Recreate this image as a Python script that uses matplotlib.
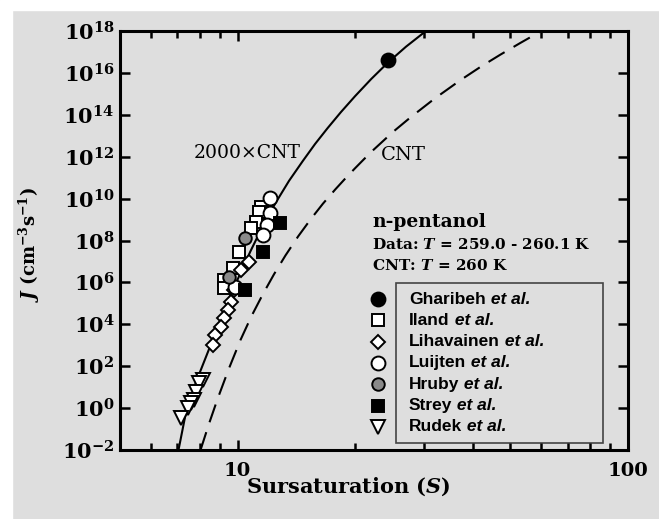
import math
import matplotlib
matplotlib.use('Agg')
import matplotlib.pyplot as plt
from matplotlib.patches import Rectangle
from matplotlib.ticker import FixedLocator, FuncFormatter, LogLocator, NullFormatter

# curves: S and log10(J)
cnt2000_S = [7.06, 7.36, 7.85, 8.53, 9.49, 10.8, 11.6, 12.5, 13.55, 14.7, 15.8, 17.0, 18.4,
             20.0, 22.0, 24.3, 27.0, 29.9, 31.2]
cnt2000_logJ = [-2.0, -0.3, 1.3, 3.0, 5.2, 7.5, 8.68, 9.78, 10.85, 11.8, 12.61, 13.36, 14.13,
                14.89, 15.71, 16.5, 17.25, 17.9, 18.2]
cnt_S = [8.04, 8.45, 8.89, 9.5, 10.18, 10.85, 11.59, 12.4, 13.27, 14.3, 15.4, 16.55, 17.8,
         18.9, 20.0, 21.1, 22.3, 25.0, 27.7, 32.0, 37.2, 42.0, 47.1, 53.0, 59.6, 62.0]
cnt_logJ = [-2.0, -0.75, 0.44, 1.88, 3.26, 4.38, 5.41, 6.39, 7.29, 8.2, 9.02, 9.76, 10.44,
            10.97, 11.45, 11.89, 12.33, 13.18, 13.87, 14.78, 15.65, 16.3, 16.87, 17.43, 17.97, 18.2]

# experimental data: S and log10(J)
gharibeh_S = [24.3]
gharibeh_logJ = [16.62]
iland_S = [11.5, 11.32, 11.12, 10.8, 10.06, 9.71, 9.21, 9.21]
iland_logJ = [9.6, 9.36, 8.88, 8.6, 7.45, 6.69, 6.11, 5.73]
lihavainen_S = [10.67, 10.18, 9.77, 9.6, 9.43, 9.21, 9.05, 8.78, 8.63]
lihavainen_logJ = [6.97, 6.59, 5.64, 5.06, 4.68, 4.3, 3.87, 3.49, 3.01]
luijten_S = [12.14, 12.14, 11.93, 11.59, 9.85]
luijten_logJ = [10.03, 9.31, 8.74, 8.26, 5.8]
hruby_S = [10.48, 9.49]
hruby_logJ = [8.12, 6.26]
strey_S = [12.88, 11.59, 10.48]
strey_logJ = [8.84, 7.45, 5.64]
rudek_S = [8.18, 7.95, 7.81, 7.72, 7.58, 7.45, 7.15]
rudek_logJ = [1.34, 1.2, 0.77, 0.39, 0.24, 0.0, -0.47]

legend_names = ['Gharibeh', 'Iland', 'Lihavainen', 'Luijten', 'Hruby', 'Strey', 'Rudek']

plt.rcParams['font.family'] = 'DejaVu Serif'
plt.rcParams['font.weight'] = 'bold'
plt.rcParams['axes.labelweight'] = 'bold'
plt.rcParams['mathtext.fontset'] = 'custom'
plt.rcParams['mathtext.rm'] = 'DejaVu Serif:bold'
plt.rcParams['mathtext.it'] = 'DejaVu Serif:bold:italic'
plt.rcParams['mathtext.bf'] = 'DejaVu Serif:bold'

bg = '#dedede'
fig = plt.figure(figsize=(6.59, 5.19), dpi=100, facecolor=bg)
fig.patches.append(Rectangle((0, 1 - 10 / 519), 1, 10 / 519, transform=fig.transFigure,
                             color='white', zorder=0))
fig.patches.append(Rectangle((0, 0), 12 / 659, 1, transform=fig.transFigure,
                             color='white', zorder=0))
ax = fig.add_axes([120 / 659, 1 - 450 / 519, 508 / 659, 419 / 519])
ax.set_facecolor('none')
ax.set_xscale('log')
ax.set_yscale('log')
ax.set_xlim(5, 100)
ax.set_ylim(1e-2, 1e18)

def to_J(vals):
    return [10 ** v for v in vals]

ax.plot(cnt2000_S, to_J(cnt2000_logJ), color='black', lw=1.5)
ax.plot(cnt_S, to_J(cnt_logJ), color='black', lw=1.5, dashes=(9, 5))

mk = dict(linestyle='none', markeredgecolor='black', markeredgewidth=1.4)
styles = [
    (gharibeh_S, gharibeh_logJ, dict(marker='o', ms=10, markerfacecolor='black')),
    (iland_S, iland_logJ, dict(marker='s', ms=9, markerfacecolor='white')),
    (lihavainen_S, lihavainen_logJ, dict(marker='D', ms=7.5, markerfacecolor='white')),
    (luijten_S, luijten_logJ, dict(marker='o', ms=10, markerfacecolor='white')),
    (hruby_S, hruby_logJ, dict(marker='o', ms=9, markerfacecolor='#8a8a8a')),
    (strey_S, strey_logJ, dict(marker='s', ms=9, markerfacecolor='black')),
    (rudek_S, rudek_logJ, dict(marker='v', ms=9.5, markerfacecolor='white')),
]
for s, lj, st in styles:
    ax.plot(s, to_J(lj), **mk, **st)

# ticks
ax.yaxis.set_major_locator(FixedLocator([10.0 ** k for k in range(-2, 19, 2)]))
ax.yaxis.set_minor_locator(FixedLocator([]))
ax.yaxis.set_major_formatter(FuncFormatter(lambda v, p: r'$\mathrm{10^{%d}}$' % round(math.log10(v))))
ax.xaxis.set_major_locator(FixedLocator([10, 100]))
ax.xaxis.set_minor_locator(LogLocator(base=10, subs=range(2, 10)))
ax.xaxis.set_minor_formatter(NullFormatter())
ax.xaxis.set_major_formatter(FuncFormatter(lambda v, p: '%d' % v))
ax.tick_params(which='both', direction='in', top=True, right=True, width=1.8)
ax.tick_params(which='major', length=7)
ax.tick_params(which='minor', length=5)
ax.tick_params(axis='y', labelsize=15, pad=4)
ax.tick_params(axis='x', labelsize=14, pad=9)
for sp in ax.spines.values():
    sp.set_linewidth(2.2)

ax.set_xlabel(r'Sursaturation ($S$)', fontsize=15)
ax.xaxis.set_label_coords(0.45, -0.062)
ax.set_ylabel(r'$J$ (cm$^{\mathrm{-3}}$s$^{\mathrm{-1}}$)', fontsize=13)
ax.yaxis.set_label_coords(-0.154, 0.49)

ax.text(7.7, 10 ** 12.18, '2000\u00d7CNT', fontsize=13.5, fontweight='normal', va='center', ha='left')
ax.text(23.3, 10 ** 12.1, 'CNT', fontsize=14, fontweight='normal', va='center', ha='left')

tr = ax.transAxes
ax.text(0.497, 0.545, 'n-pentanol', transform=tr, fontsize=13.5, va='center')
ax.text(0.497, 0.49, r'Data: $T$ = 259.0 - 260.1 K', transform=tr, fontsize=11, va='center')
ax.text(0.497, 0.44, r'CNT: $T$ = 260 K', transform=tr, fontsize=11, va='center')

# legend: markers outside the box, names inside
ax.add_patch(Rectangle((0.543, 0.0167), 0.407, 0.382, transform=tr, fill=False,
                       edgecolor='#444444', lw=1.2))
for i, (name, (s, lj, st)) in enumerate(zip(legend_names, styles)):
    yy = 1 - (299 + 21.3 * i - 31) / 419
    ax.plot([0.508], [yy], transform=tr, clip_on=False, **mk, **st)
    t1 = ax.text(0.569, yy, name, transform=tr, family='Liberation Sans', fontweight='bold',
                 fontsize=12.5, va='center')
    ax.annotate(' et al.', xy=(1, 0), xycoords=t1, family='Liberation Sans', fontweight='bold',
                style='italic', fontsize=12.5, va='bottom', ha='left')

fig.savefig('out.png', dpi=100, facecolor=bg)
